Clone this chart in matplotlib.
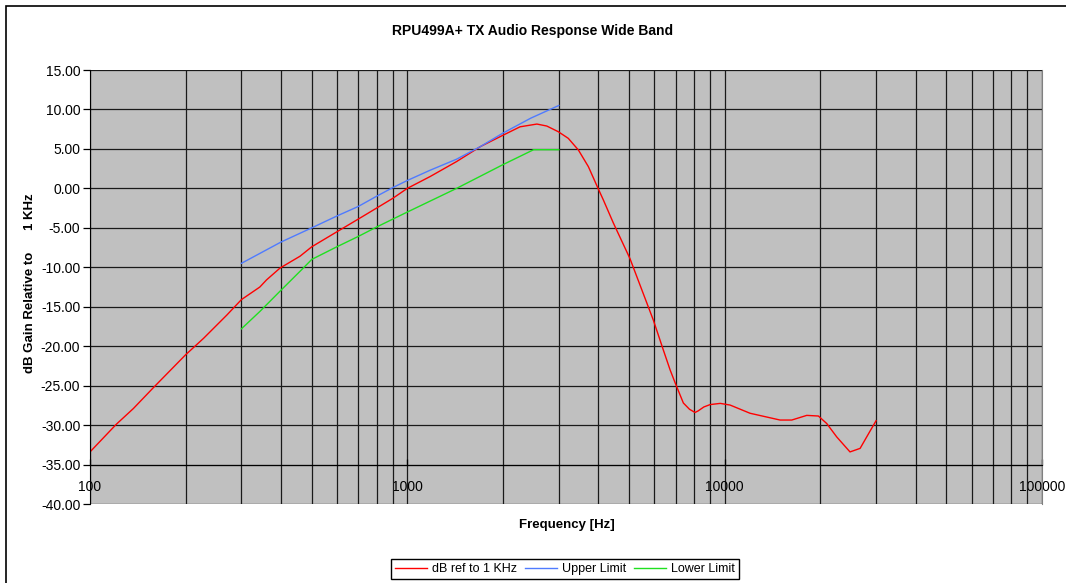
import matplotlib
matplotlib.use("Agg")
import matplotlib.pyplot as plt
from matplotlib.ticker import FixedLocator, FuncFormatter, NullFormatter, LogLocator
from matplotlib.patches import Rectangle

plt.rcParams['font.family'] = ['Liberation Sans', 'DejaVu Sans']
plt.rcParams['axes.unicode_minus'] = False

# ---------------- data ----------------
freq_resp = [100, 121, 137, 158, 200, 228, 270, 300, 343, 360, 397, 459, 500, 600,
             700, 800, 900, 1000, 1180, 1430, 1700, 1960, 2265, 2560, 2750, 2990,
             3215, 3460, 3720, 3970, 4150, 4460, 5030, 5960, 6410, 6730, 6990, 7410,
             7750, 8065, 8250, 8600, 9000, 9690, 10400, 12020, 14950, 16270, 18140,
             19740, 20970, 22550, 24830, 26720, 28680, 30000]
resp_db = [-33.4, -29.9, -27.9, -25.3, -21.1, -19.0, -16.05, -14.1, -12.5, -11.6,
           -10.1, -8.6, -7.4, -5.5, -3.9, -2.5, -1.26, 0.0, 1.5, 3.4, 5.3, 6.55,
           7.8, 8.15, 7.9, 7.18, 6.34, 4.86, 2.75, 0.2, -1.5, -4.4, -8.9, -16.7,
           -20.5, -23.0, -24.7, -27.2, -28.0, -28.4, -28.2, -27.7, -27.4, -27.25,
           -27.46, -28.5, -29.36, -29.36, -28.77, -28.85, -29.8, -31.5, -33.4,
           -32.95, -30.8, -29.45]

freq_upper = [300, 400, 500, 600, 700, 800, 900, 1000, 1180, 1430, 1700, 2000, 2450, 3000]
upper_db = [-9.5, -6.8, -5.0, -3.5, -2.3, -1.0, 0.1, 1.0, 2.3, 3.7, 5.3, 7.0, 8.9, 10.5]

freq_lower = [300, 343, 400, 470, 500, 600, 700, 800, 1000, 1430, 2000, 2500, 3000]
lower_db = [-17.8, -15.6, -12.9, -10.1, -9.0, -7.4, -6.1, -4.9, -3.0, 0.0, 3.0, 4.9, 4.9]

x_ticks = [100, 1000, 10000, 100000]
x_tick_labels = ["100", "1000", "10000", "100000"]
y_ticks = [15, 10, 5, 0, -5, -10, -15, -20, -25, -30, -35, -40]

title = "RPU499A+ TX Audio Response Wide Band"
xlabel = "Frequency [Hz]"
ylabel = "dB Gain Relative to      1 KHz"
series_names = ["dB ref to 1 KHz", "Upper Limit", "Lower Limit"]

# ---------------- figure ----------------
W, H = 1066, 583
fig = plt.figure(figsize=(W / 100, H / 100), dpi=100)
fig.patch.set_facecolor('white')

# outer chart border
fig.patches.append(Rectangle((6 / W, -0.05), 1.1, 1 - 6 / H + 0.05,
                             transform=fig.transFigure, fill=False,
                             edgecolor='black', linewidth=1.2))

left, right, top, bottom = 90, 1042, 70, 504
ax = fig.add_axes([left / W, 1 - bottom / H, (right - left) / W, (bottom - top) / H])
ax.set_facecolor('#C0C0C0')
ax.set_xscale('log')
ax.set_xlim(100, 100000)
ax.set_ylim(-40, 15)

# grid lines
ax.xaxis.set_major_locator(FixedLocator(x_ticks))
ax.xaxis.set_minor_locator(LogLocator(base=10, subs=range(2, 10)))
ax.xaxis.set_minor_formatter(NullFormatter())
ax.xaxis.set_major_formatter(FuncFormatter(
    lambda v, p: x_tick_labels[x_ticks.index(int(round(v)))] if int(round(v)) in x_ticks else ""))
ax.grid(True, which='both', axis='x', color='#1a1a1a', linewidth=0.9)
ax.yaxis.set_major_locator(FixedLocator(y_ticks))
ax.yaxis.set_major_formatter(FuncFormatter(lambda v, p: "%.2f" % v))
ax.grid(True, which='major', axis='y', color='#1a1a1a', linewidth=0.9)
ax.set_axisbelow(True)

# spines
ax.spines['top'].set_visible(False)
ax.spines['right'].set_color('#808080')
ax.spines['left'].set_color('black')
ax.spines['bottom'].set_position(('data', -35))
ax.spines['bottom'].set_color('black')

ax.tick_params(axis='y', which='major', direction='out', length=5, width=0.9,
               labelsize=10, pad=2, colors='black')
ax.tick_params(axis='x', which='major', direction='in', length=4, width=0.9,
               labelsize=10, pad=11)
ax.tick_params(axis='x', which='minor', length=0)

# data lines
l1, = ax.plot(freq_resp, resp_db, color='#FF0000', linewidth=1.0)
l2, = ax.plot(freq_upper, upper_db, color='#4F7BFF', linewidth=1.0)
l3, = ax.plot(freq_lower, lower_db, color='#1FE01F', linewidth=1.0)

# texts
fig.text(533 / W, 1 - 31 / H, title, ha='center', va='center',
         fontsize=10, fontweight='bold')
fig.text(567 / W, 1 - 525 / H, xlabel, ha='center', va='center',
         fontsize=9.5, fontweight='bold')
fig.text(30 / W, 1 - 283 / H, ylabel, ha='center', va='center',
         rotation=90, fontsize=9.5, fontweight='bold')

leg = fig.legend([l1, l2, l3], series_names, loc='center',
                 bbox_to_anchor=(565 / W, 1 - 569 / H), ncol=3,
                 fontsize=9, frameon=True, fancybox=False, framealpha=1,
                 edgecolor='black', handlelength=2.6, handletextpad=0.4,
                 columnspacing=0.6, borderpad=0.3, borderaxespad=0)
leg.get_frame().set_linewidth(1.0)

fig.savefig("out.png", dpi=100)
